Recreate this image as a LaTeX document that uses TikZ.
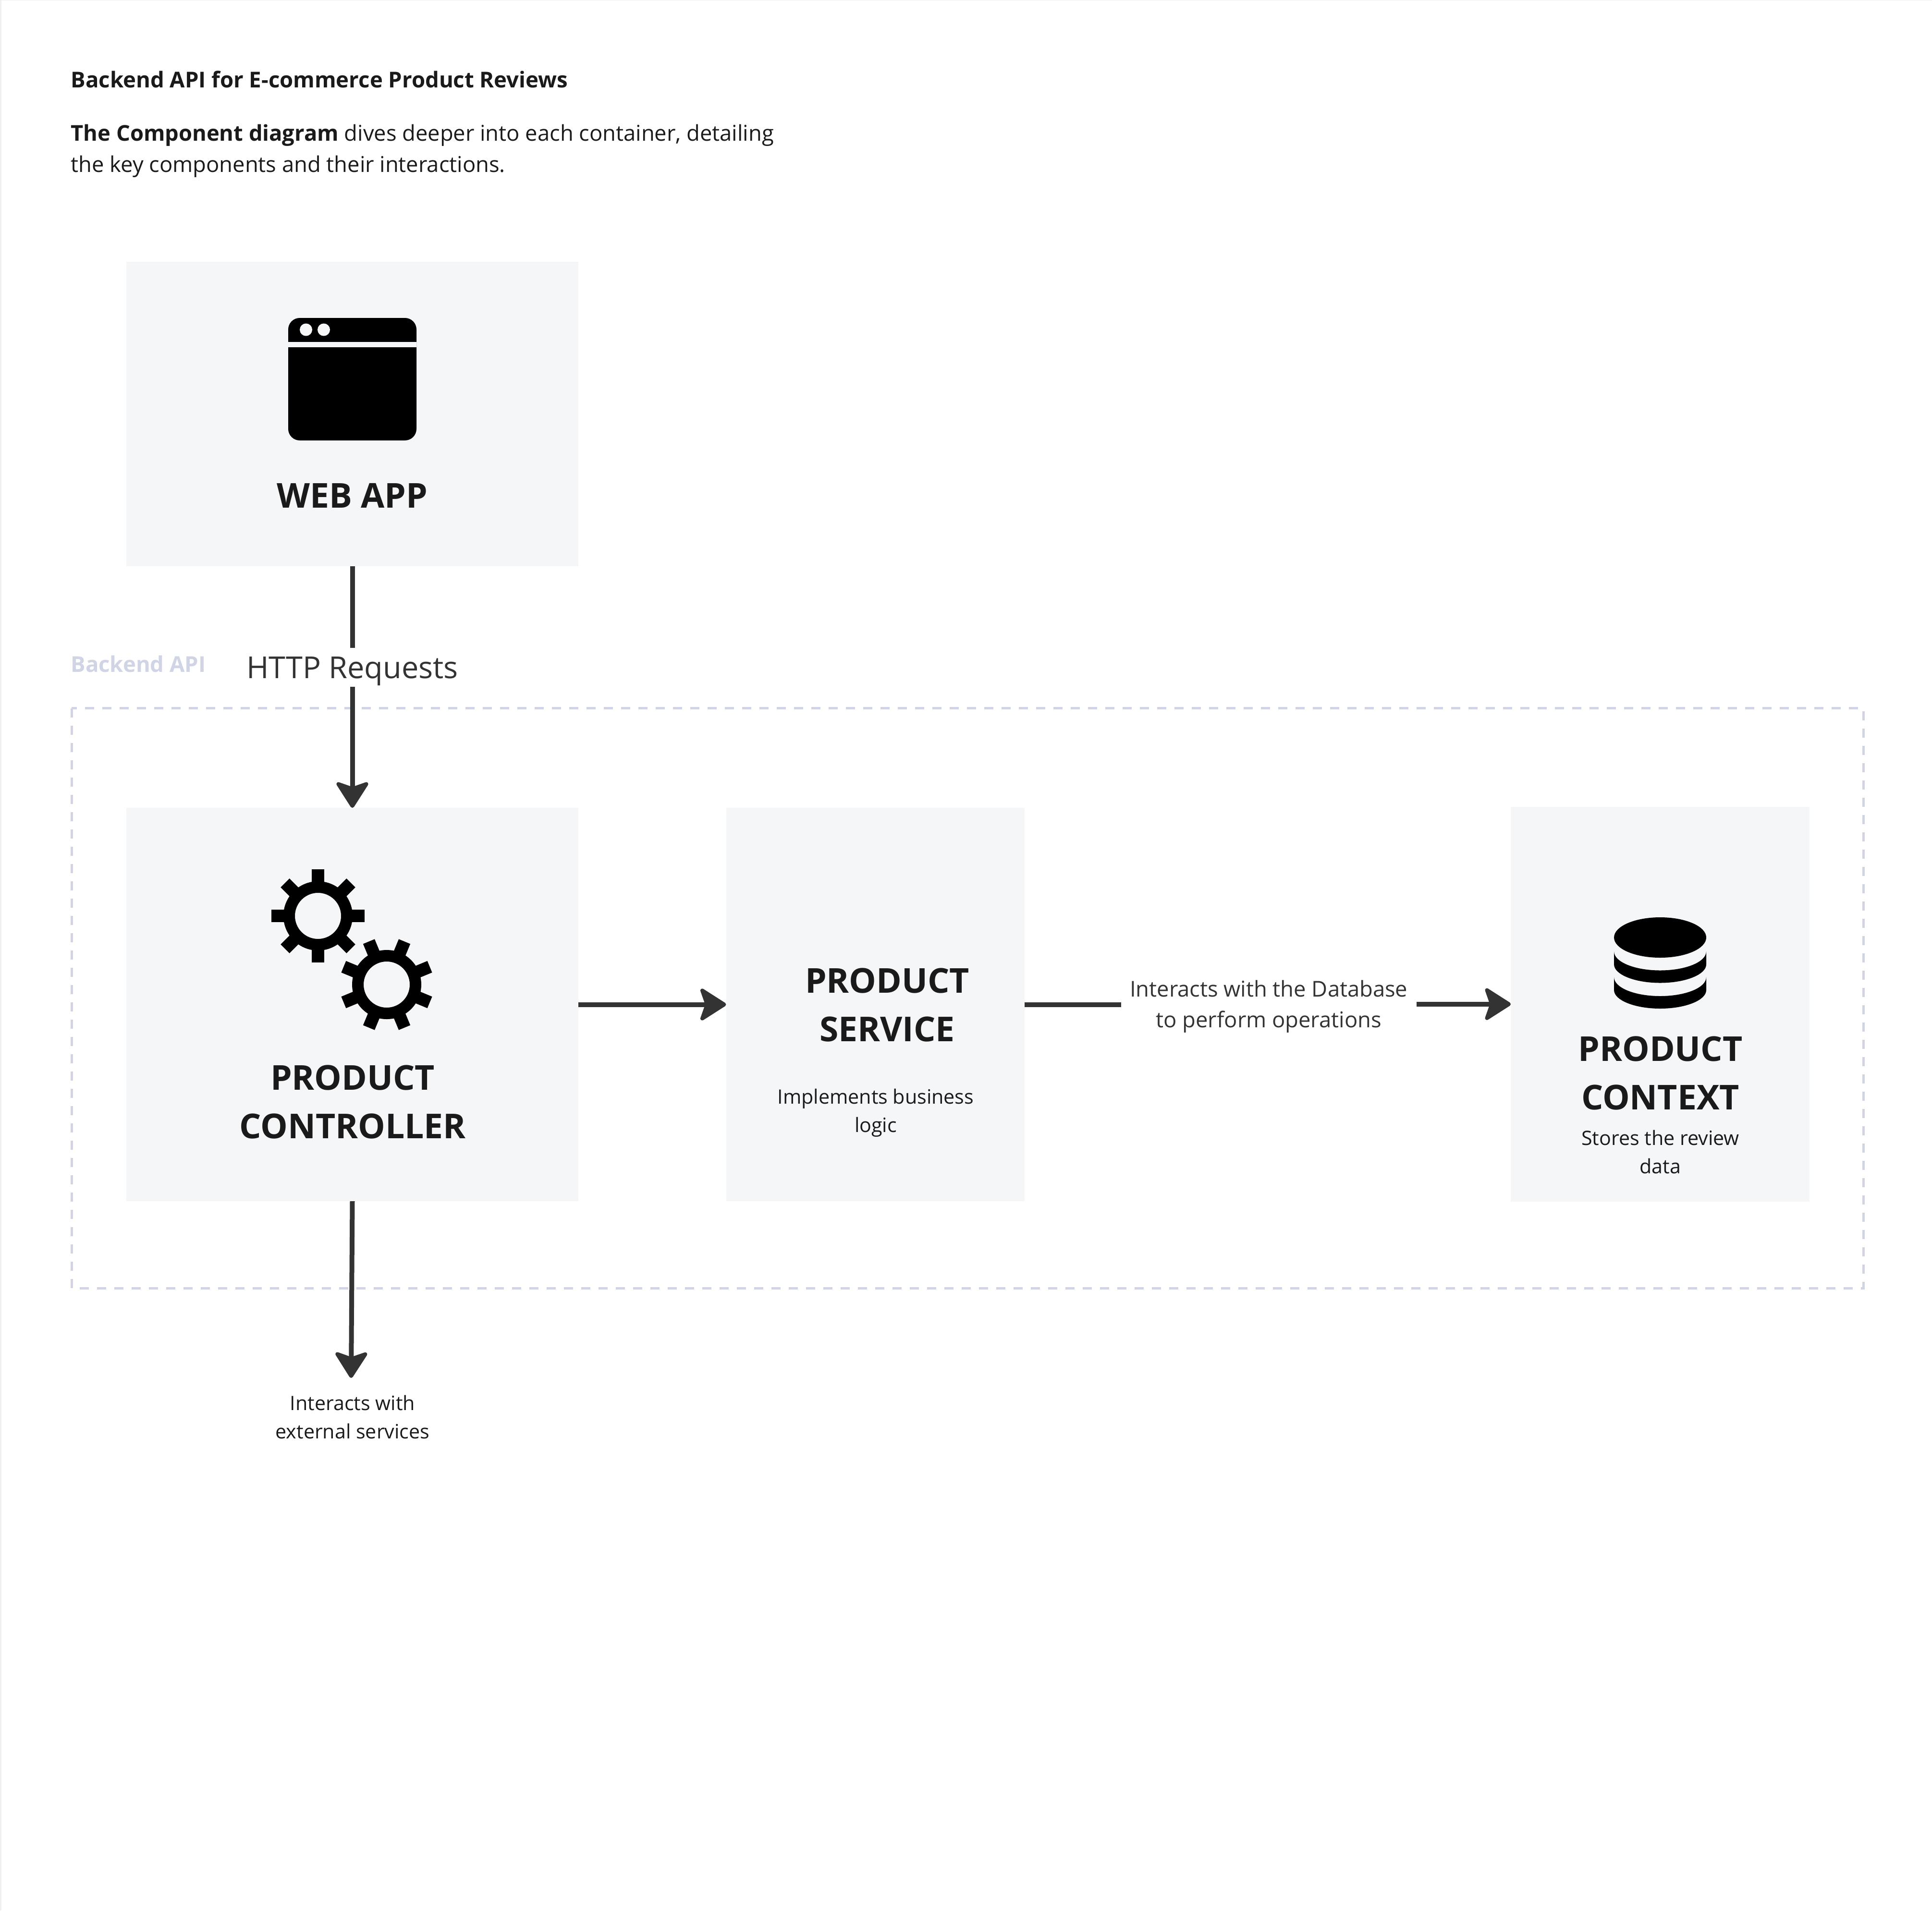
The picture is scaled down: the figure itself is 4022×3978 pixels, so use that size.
\documentclass[tikz,border=0pt]{standalone}
\usepackage{fontspec}
\setmainfont{Open Sans}
\usetikzlibrary{arrows.meta}
\definecolor{boxbg}{HTML}{F5F6F8}
\definecolor{inkdark}{HTML}{1A1A1A}
\definecolor{linkc}{HTML}{333333}
\definecolor{lav}{HTML}{D1D4E5}
\definecolor{edgec}{HTML}{F0F0F0}
\newcommand\szf[2]{\fontsize{#1}{#2}\selectfont}
\newcommand\gearicon[3]{%
  \fill[black,even odd rule] (#1,#2) circle[radius=72] (#1,#2) circle[radius=48];
  \foreach \a in {0,45,...,315}{
    \pgfmathsetmacro\ang{\a+#3}
    \fill[black,shift={(#1,#2)},rotate=\ang] (60,-13) rectangle (97,13);
  }}
\tikzset{
  x=1pt,y=-1pt,
  boxnode/.style={fill=boxbg,draw=none,inner sep=0pt,outer sep=0pt},
  titletext/.style={anchor=base,inner sep=0pt,text=inkdark,align=center,font=\bfseries\szf{71.3}{101}},
  smalltext/.style={anchor=base,inner sep=0pt,text=inkdark,align=center,font=\szf{41.2}{59}},
  headtext/.style={anchor=base west,inner sep=0pt,text=inkdark,align=left,font=\szf{45.3}{65}},
  link/.style={draw=linkc,line width=10pt},
  tip/.style={-{Stealth[length=60pt,width=76pt,inset=13pt,round,line width=8pt]}},
}
\begin{document}
\begin{tikzpicture}
\useasboundingbox (0,0) rectangle (4022,3978);
\fill[edgec] (0,0) rectangle (3,3978);
\fill[edgec] (0,0) rectangle (4022,1);

% texts at the top
\node[headtext,font=\bfseries\szf{45.5}{65}] (title) at (147.5,182) {Backend API for E-commerce Product Reviews};
\node[headtext] (desc) at (147.5,358) {\textbf{The Component diagram} dives deeper into each container, detailing\\the key components and their interactions.};

% boxes
\node[boxnode,minimum width=941pt,minimum height=634pt] (web) at (733.5,862) {};
\node[boxnode,minimum width=941pt,minimum height=819pt] (ctrl) at (733.5,2091.5) {};
\node[boxnode,minimum width=621pt,minimum height=819pt] (svc) at (1822,2091.5) {};
\node[boxnode,minimum width=622pt,minimum height=822.5pt] (ctx) at (3456,2090.75) {};

% bottom link passes under the dashed frame
\coordinate (extTip) at (731,2869);
\draw[link,tip] (ctrl.south) -- (extTip);

% container
\draw[lav,line width=5pt,dash pattern=on 19pt off 17pt] (149,1474.5) rectangle (3879,2682);
\node[anchor=base west,inner sep=0pt,text=lav,font=\bfseries\szf{45.4}{55}] (api) at (147.5,1399.5) {Backend API};

% web icon
\fill[black,rounded corners=24pt] (600,662) rectangle (867,917);
\fill[boxbg] (600,711.5) rectangle (867,723);
\fill[boxbg] (637,686.5) circle[radius=13];
\fill[boxbg] (674,686.5) circle[radius=13];
\node[titletext] (webl) at (733.5,1057) {WEB APP};

% gears
\gearicon{662}{1907}{0}
\gearicon{805}{2050}{22.5}
\node[titletext] (ctrll) at (734,2370) {PRODUCT\\CONTROLLER};

% service
\node[titletext] (svcl) at (1847,2168) {PRODUCT\\SERVICE};
\node[smalltext] (svcd) at (1823,2357.5) {Implements business\\logic};

% database icon
\fill[black] (3456,1952) ellipse[x radius=96,y radius=42];
\foreach \dy in {0,53.5}{
  \fill[black,shift={(0,\dy)}] (3360,1981) .. controls (3360,2003) and (3403,2020.5) .. (3456,2020.5)
     .. controls (3509,2020.5) and (3552,2003) .. (3552,1981) -- (3552,2008)
     .. controls (3552,2029) and (3509,2046.5) .. (3456,2046.5)
     .. controls (3403,2046.5) and (3360,2029) .. (3360,2008) -- cycle;
}
\node[titletext] (ctxl) at (3456.5,2310) {PRODUCT\\CONTEXT};
\node[smalltext] (ctxd) at (3456.5,2443) {Stores the review\\data};

% connector labels
\node[anchor=base,inner sep=0pt,text=linkc,font=\szf{63}{70},text height=63pt,text depth=18pt] (http) at (733.5,1412) {HTTP Requests};
\node[anchor=base,inner sep=0pt,text=linkc,align=center,font=\szf{45.3}{64},minimum width=614.5pt] (dbl) at (2641.25,2139) {Interacts with the Database\\to perform operations};
\node[smalltext] (ext) at (734,2995) {Interacts with\\external services};

% connectors
\draw[link] (web.south) -- (http.north);
\draw[link,tip] (http.south) -- (ctrl.north);
\draw[link,tip] (ctrl.east) -- (svc.west);
\draw[link] (svc.east) -- (svc.east -| dbl.west);
\draw[link,tip] (ctx.west -| dbl.east) -- (ctx.west);
\end{tikzpicture}
\end{document}
